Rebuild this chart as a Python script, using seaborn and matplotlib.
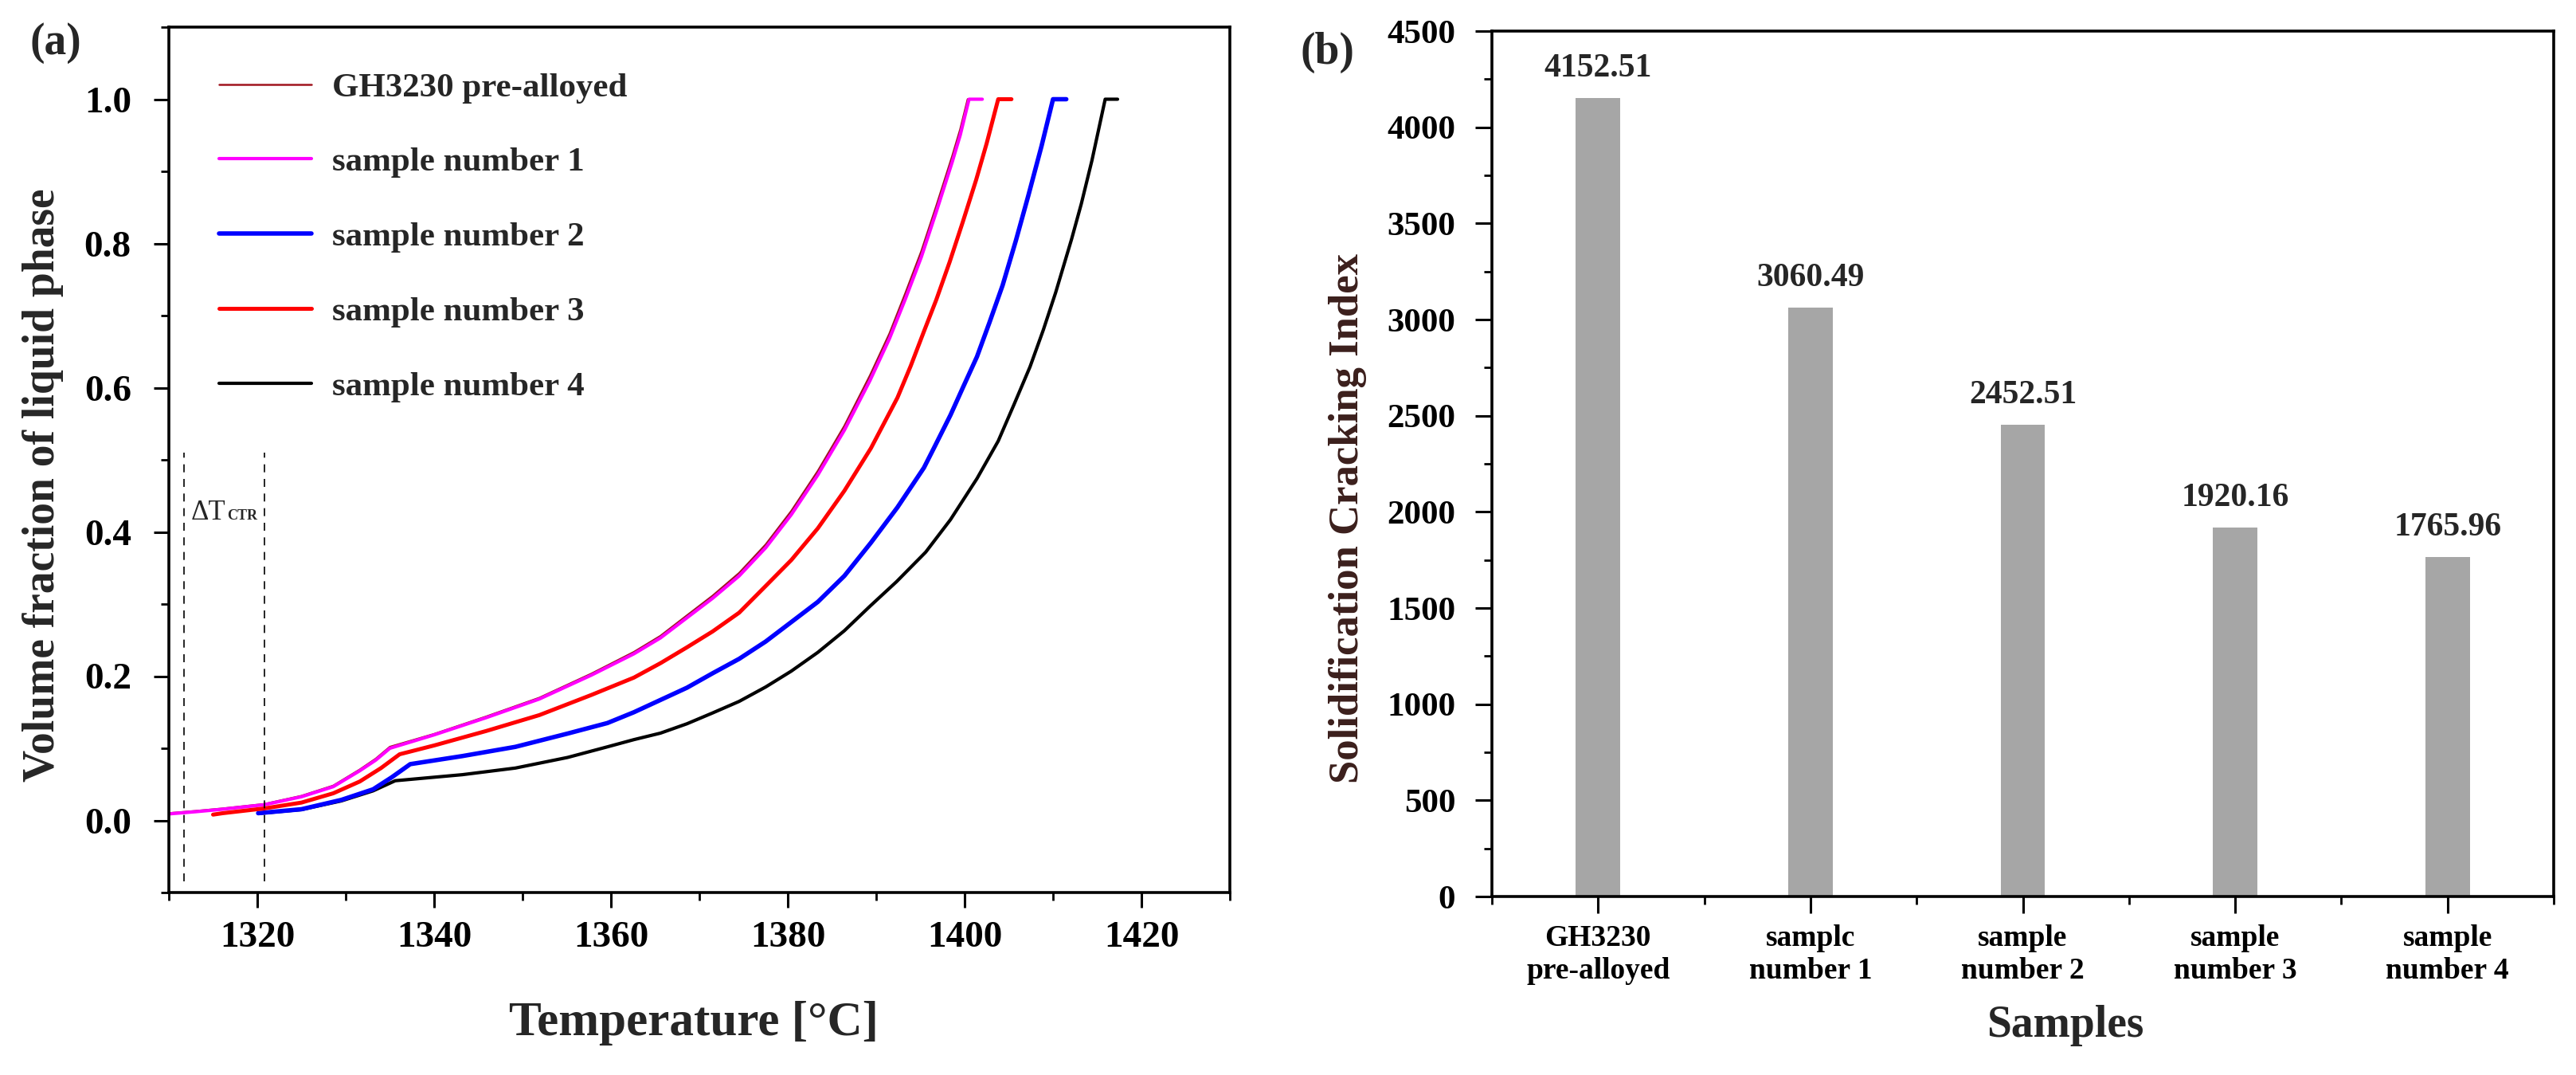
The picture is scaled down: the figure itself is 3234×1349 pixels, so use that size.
import matplotlib
matplotlib.use("Agg")
import matplotlib.pyplot as plt
from matplotlib.ticker import MultipleLocator, FixedLocator
import seaborn as sns

# ---------------- data: panel (a) ----------------
gh_T = [1310, 1313, 1316.1, 1320.8, 1325.0, 1328.6, 1331.6, 1333.4, 1335.0, 1340.0, 1345.9,
        1351.9, 1357.8, 1362.6, 1365.6, 1368.6, 1371.5, 1374.5, 1377.5, 1380.4, 1383.4,
        1386.4, 1389.3, 1391.5, 1393.3, 1395.1, 1396.8, 1398.6, 1399.5, 1400.35, 1401.6]
gh_V = [0.010, 0.013, 0.0165, 0.0227, 0.0340, 0.0482, 0.0705, 0.0855, 0.102, 0.1198, 0.1440,
        0.1700, 0.2035, 0.2335, 0.2558, 0.2842, 0.3115, 0.343, 0.3825, 0.429, 0.4845,
        0.547, 0.617, 0.675, 0.731, 0.789, 0.852, 0.921, 0.958, 1.0, 1.0]

s1_T = [1310, 1313, 1316.1, 1320.8, 1325.0, 1328.6, 1331.6, 1333.4, 1335.0, 1340.0, 1345.9,
        1351.9, 1357.8, 1362.6, 1365.6, 1368.6, 1371.5, 1374.5, 1377.5, 1380.4, 1383.4,
        1386.4, 1389.3, 1391.5, 1393.3, 1395.1, 1396.8, 1398.6, 1399.5, 1400.5, 1402.0]
s1_V = [0.009, 0.012, 0.0155, 0.0217, 0.0328, 0.0468, 0.0689, 0.0836, 0.100, 0.1186, 0.1425,
        0.1683, 0.2015, 0.231, 0.253, 0.281, 0.308, 0.339, 0.378, 0.424, 0.479,
        0.541, 0.610, 0.668, 0.723, 0.781, 0.844, 0.913, 0.950, 1.0, 1.0]

s2_T = [1320.1, 1325.0, 1329.5, 1333.1, 1335.2, 1337.3, 1343.2, 1349.2, 1355.1, 1359.6, 1362.6,
        1365.6, 1368.6, 1371.5, 1374.5, 1377.5, 1380.4, 1383.4, 1386.4, 1389.4, 1392.4,
        1395.4, 1396.6, 1398.4, 1399.8, 1401.4, 1402.8, 1404.3, 1405.8, 1407.2, 1408.7,
        1410.0, 1411.5]
s2_V = [0.010, 0.0155, 0.0284, 0.0431, 0.0597, 0.078, 0.0892, 0.102, 0.1204, 0.135, 0.150,
        0.167, 0.184, 0.204, 0.224, 0.248, 0.275, 0.303, 0.339, 0.385, 0.434,
        0.489, 0.518, 0.562, 0.600, 0.643, 0.690, 0.742, 0.804, 0.866, 0.935,
        1.0, 1.0]

s3_T = [1315.0, 1316.1, 1320.8, 1325.0, 1328.6, 1331.6, 1334.0, 1336.1, 1340.0, 1345.9, 1351.9,
        1357.8, 1362.6, 1365.6, 1368.6, 1371.5, 1374.5, 1377.5, 1380.4, 1383.4, 1386.4,
        1389.4, 1392.4, 1393.9, 1395.4, 1396.8, 1398.3, 1399.8, 1401.3, 1402.5, 1403.8, 1405.3]
s3_V = [0.008, 0.010, 0.0166, 0.0247, 0.0376, 0.054, 0.0726, 0.0917, 0.1039, 0.124, 0.146,
        0.174, 0.198, 0.218, 0.240, 0.262, 0.288, 0.325, 0.361, 0.405, 0.457,
        0.516, 0.586, 0.630, 0.678, 0.722, 0.774, 0.830, 0.888, 0.939, 1.0, 1.0]

s4_T = [1320.5, 1325.0, 1329.5, 1333.1, 1335.6, 1343.2, 1349.2, 1355.1, 1359.6, 1362.6, 1365.6,
        1368.6, 1371.5, 1374.5, 1377.5, 1380.4, 1383.4, 1386.4, 1389.3, 1392.3, 1395.6,
        1398.4, 1401.4, 1403.8, 1405.6, 1407.4, 1408.9, 1410.3, 1412.1, 1413.2, 1414.4,
        1415.9, 1417.3]
s4_V = [0.010, 0.0150, 0.027, 0.041, 0.055, 0.0634, 0.0726, 0.0873, 0.102, 0.112, 0.121,
        0.134, 0.149, 0.165, 0.185, 0.207, 0.233, 0.263, 0.297, 0.331, 0.372,
        0.417, 0.474, 0.526, 0.577, 0.629, 0.680, 0.732, 0.806, 0.855, 0.915,
        1.0, 1.0]

series_labels = ["GH3230 pre-alloyed", "sample number 1", "sample number 2",
                 "sample number 3", "sample number 4"]
dtctr_lines = [1311.7, 1320.8]

a_xticks = [1320, 1340, 1360, 1380, 1400, 1420]
a_yticks = [0.0, 0.2, 0.4, 0.6, 0.8, 1.0]
a_yticklabels = ["0.0", "0.2", "0.4", "0.6", "0.8", "1.0"]

# ---------------- data: panel (b) ----------------
categories = ["GH3230\npre-alloyed", "samplc\nnumber 1", "sample\nnumber 2",
              "sample\nnumber 3", "sample\nnumber 4"]
sci_values = [4152.51, 3060.49, 2452.51, 1920.16, 1765.96]
b_yticks = [0, 500, 1000, 1500, 2000, 2500, 3000, 3500, 4000, 4500]

# ---------------- style ----------------
sns.set_style("ticks")
plt.rcParams['font.family'] = ['Liberation Serif', 'DejaVu Serif']
plt.rcParams['font.weight'] = 'bold'
plt.rcParams['axes.labelweight'] = 'bold'
plt.rcParams['axes.edgecolor'] = 'black'
plt.rcParams['xtick.color'] = 'black'
plt.rcParams['ytick.color'] = 'black'

W, H = 3234, 1349
fig = plt.figure(figsize=(W / 100, H / 100), dpi=100)
ax1 = fig.add_axes([212 / W, 1 - 1120 / H, (1544 - 212) / W, (1120 - 34) / H])
ax2 = fig.add_axes([1873 / W, 1 - 1125 / H, (3206 - 1873) / W, (1125 - 39) / H])

# ---------------- panel (a) ----------------
styles = {
    "GH3230 pre-alloyed": dict(color="#A0141E", lw=1.8),
    "sample number 1": dict(color="#FF00FF", lw=3.0),
    "sample number 2": dict(color="#0000FF", lw=4.0),
    "sample number 3": dict(color="#FF0000", lw=3.6),
    "sample number 4": dict(color="#000000", lw=3.0),
}
curve_data = {
    "GH3230 pre-alloyed": (gh_T, gh_V),
    "sample number 1": (s1_T, s1_V),
    "sample number 2": (s2_T, s2_V),
    "sample number 3": (s3_T, s3_V),
    "sample number 4": (s4_T, s4_V),
}
draw_order = ["GH3230 pre-alloyed", "sample number 1", "sample number 4",
              "sample number 2", "sample number 3"]
for name in draw_order:
    T, V = curve_data[name]
    sns.lineplot(x=T, y=V, ax=ax1, color=styles[name]["color"],
                 linewidth=styles[name]["lw"], label=name, estimator=None, sort=False)

ax1.vlines(dtctr_lines, -0.085, 0.51, colors="black", linestyles=(0, (6, 5)), linewidth=1.2)
ax1.text(1312.5, 0.417, "ΔT", fontsize=25, fontweight="normal", va="baseline", ha="left")
ax1.annotate("CTR", xy=(1312.5, 0.417), xytext=(45, 0), textcoords="offset pixels",
             fontsize=13, fontweight="bold", va="baseline", ha="left")

handles, labels = ax1.get_legend_handles_labels()
hmap = dict(zip(labels, handles))
ax1.legend([hmap[l] for l in series_labels], series_labels, loc="upper left",
           bbox_to_anchor=(0.047, 0.948), frameon=False,
           prop={"weight": "bold", "size": 31}, handlelength=2.7, handletextpad=0.6,
           labelspacing=1.27, borderpad=0, borderaxespad=0)

ax1.set_xlim(1310, 1430)
ax1.set_ylim(-0.1, 1.1)
ax1.set_xticks(a_xticks)
ax1.set_yticks(a_yticks)
ax1.set_yticklabels(a_yticklabels)
ax1.xaxis.set_minor_locator(MultipleLocator(10))
ax1.yaxis.set_minor_locator(MultipleLocator(0.1))
ax1.tick_params(which="major", direction="out", length=14, width=2.2, labelsize=34)
ax1.tick_params(which="minor", direction="out", length=7.5, width=2.0)
ax1.tick_params(axis="y", which="major", pad=20)
ax1.tick_params(axis="x", which="major", pad=12)
for sp in ax1.spines.values():
    sp.set_linewidth(2.6)
ax1.set_xlabel("Temperature [°C]", fontsize=44, fontweight="bold")
ax1.set_ylabel("Volume fraction of liquid phase", fontsize=40, fontweight="bold")
ax1.xaxis.set_label_coords(0.495, -0.125)
ax1.yaxis.set_label_coords(-0.099, 0.471)
ax1.grid(False)

# ---------------- panel (b) ----------------
sns.barplot(x=categories, y=sci_values, ax=ax2, color="#A6A6A6", saturation=1,
            width=0.21, linewidth=0)
ax2.bar_label(ax2.containers[0], fmt="%.2f", padding=13, fontsize=30, fontweight="bold")
ax2.set_xlim(-0.5, 4.5)
ax2.set_ylim(0, 4500)
ax2.set_yticks(b_yticks)
ax2.yaxis.set_minor_locator(MultipleLocator(250))
ax2.xaxis.set_minor_locator(FixedLocator([-0.5, 0.5, 1.5, 2.5, 3.5, 4.5]))
ax2.tick_params(which="major", direction="out", length=15, width=2.2)
ax2.tick_params(which="minor", direction="out", length=7, width=2.0)
ax2.tick_params(axis="y", which="major", labelsize=31, pad=18)
ax2.tick_params(axis="x", which="major", labelsize=27, pad=10)
for lab in ax2.get_xticklabels():
    lab.set_linespacing(1.25)
for sp in ax2.spines.values():
    sp.set_linewidth(2.6)
ax2.set_xlabel("Samples", fontsize=40, fontweight="bold")
ax2.set_ylabel("Solidification Cracking Index", fontsize=38, fontweight="bold",
               color="#3B1F1C")
ax2.xaxis.set_label_coords(0.54, -0.125)
ax2.yaxis.set_label_coords(-0.118, 0.4365)
ax2.grid(False)

fig.text(37 / W, 1 - 28 / H, "(a)", fontsize=40, fontweight="bold", va="top", ha="left")
fig.text(1632 / W, 1 - 40 / H, "(b)", fontsize=40, fontweight="bold", va="top", ha="left")

fig.savefig("out.png", dpi=100)
